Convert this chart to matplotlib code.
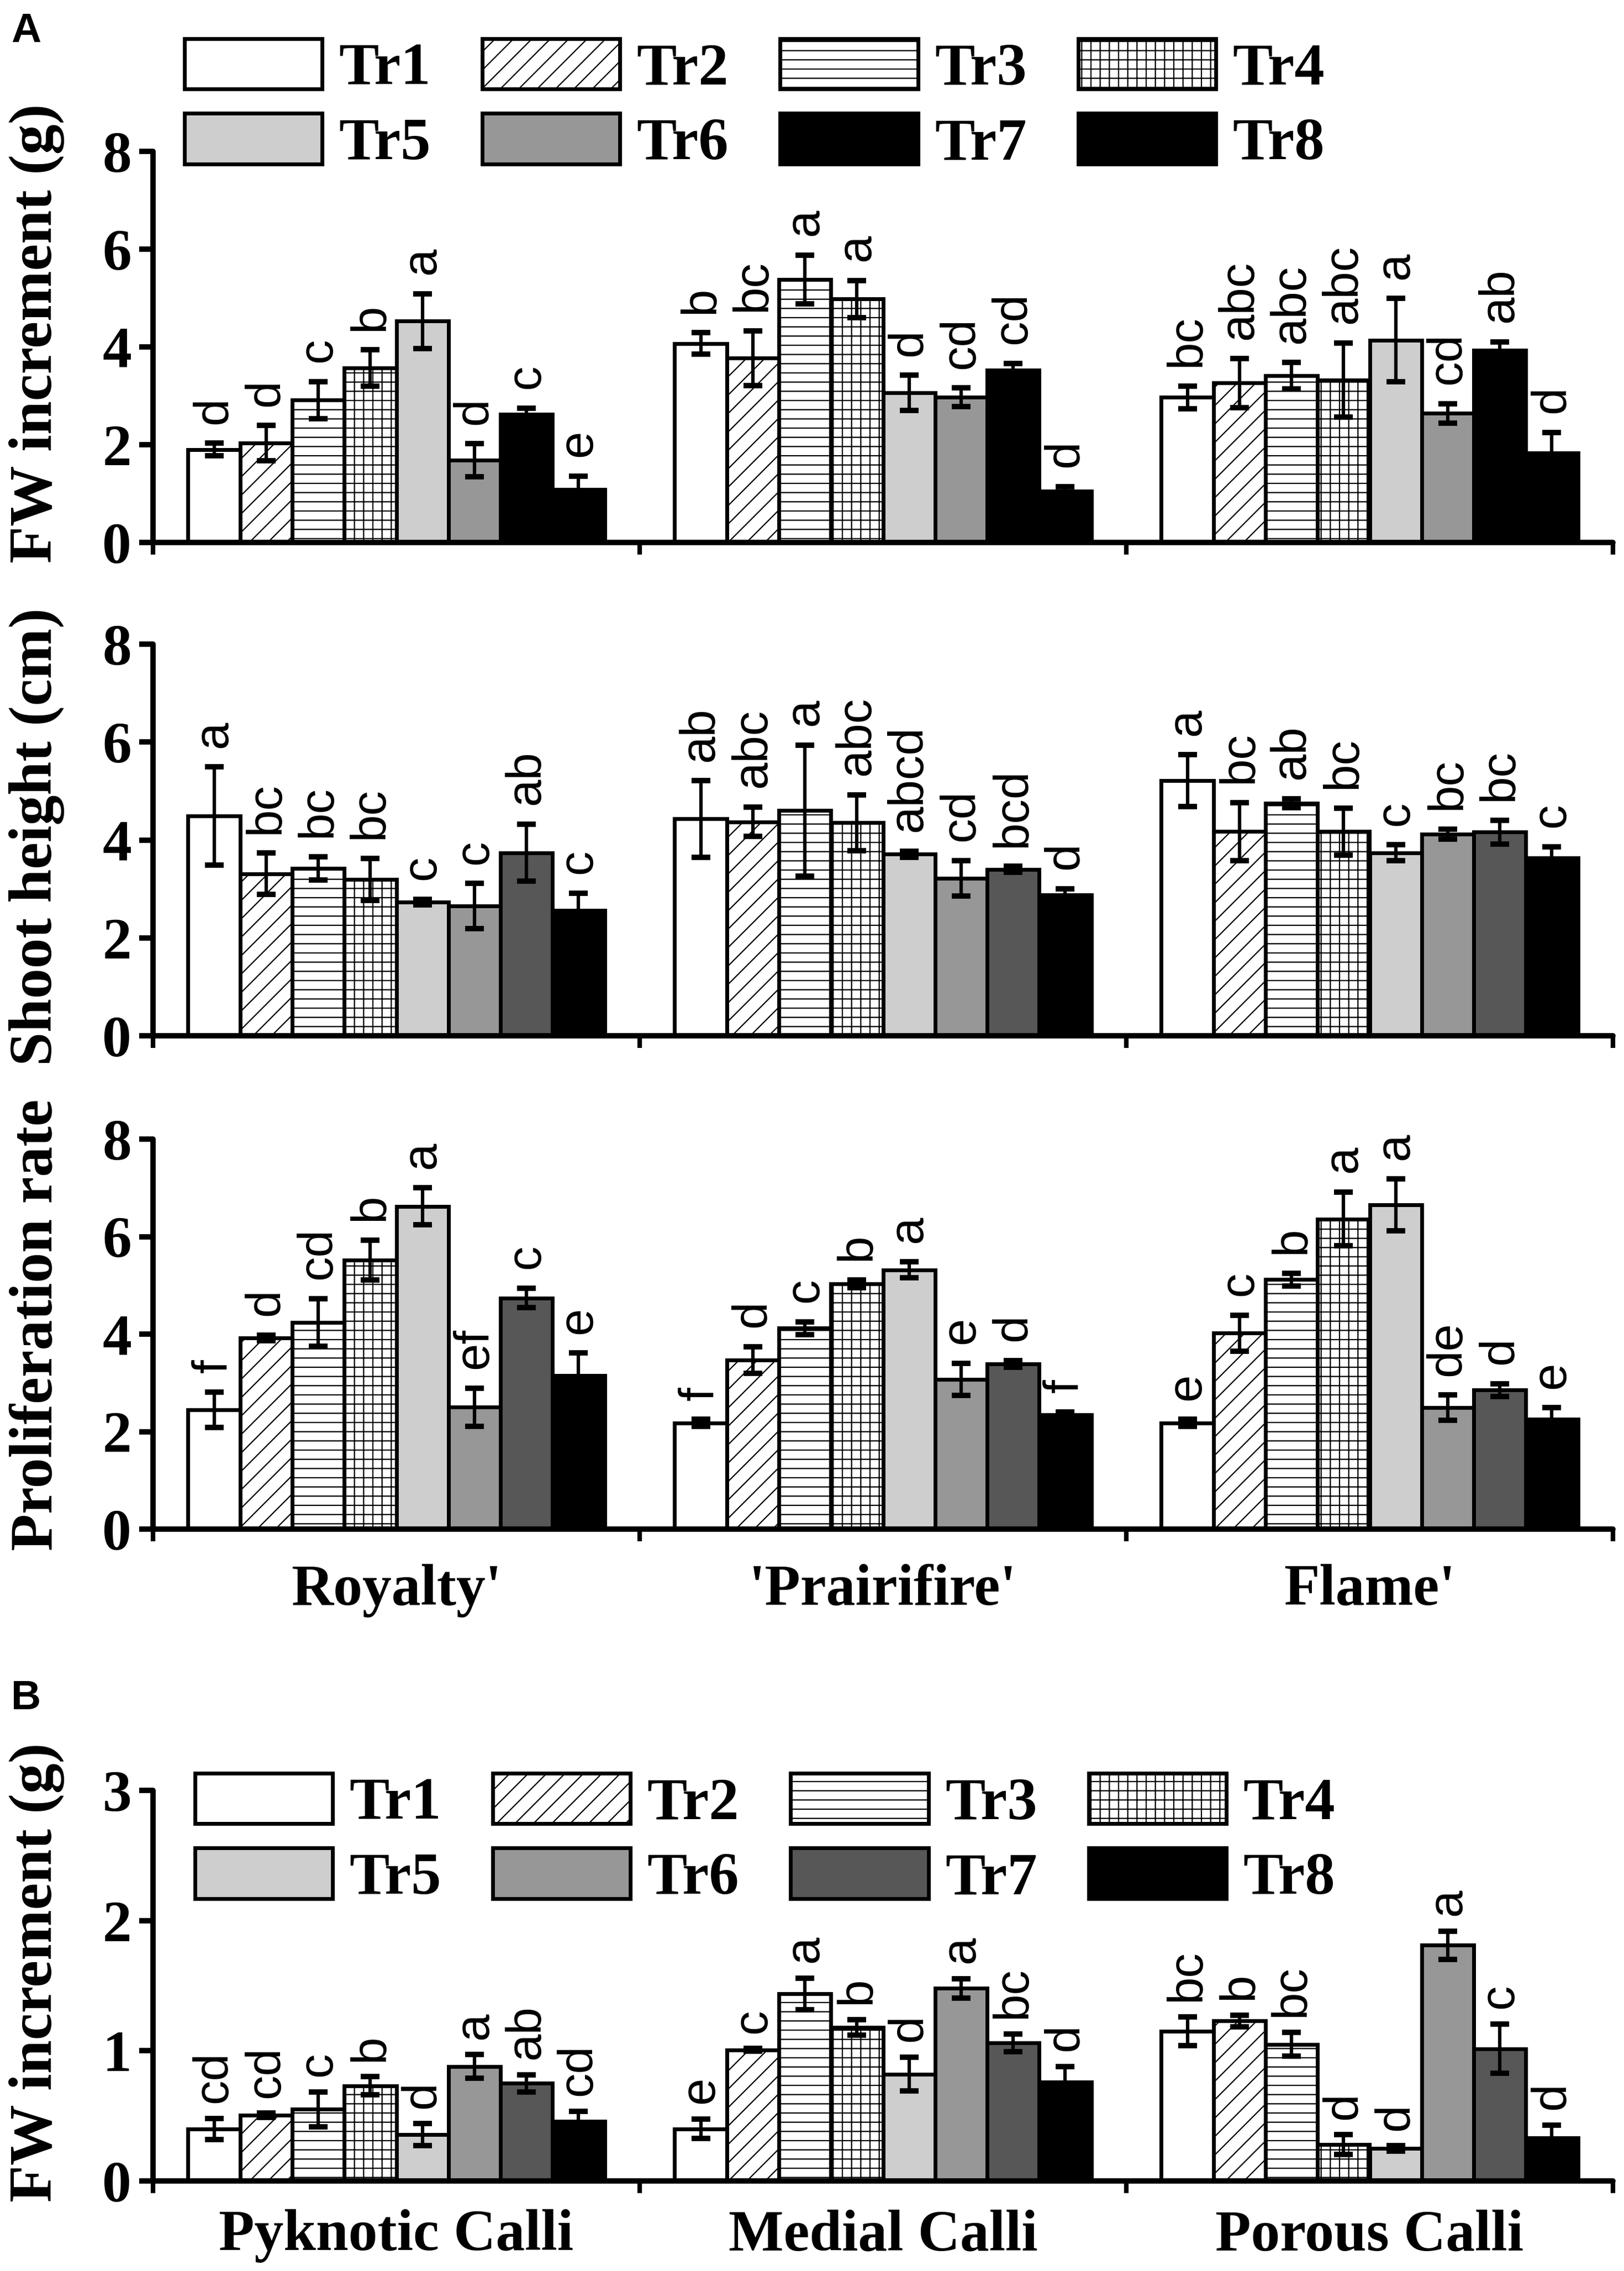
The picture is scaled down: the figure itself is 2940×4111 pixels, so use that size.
import matplotlib
matplotlib.use('Agg')
import matplotlib.pyplot as plt
from matplotlib.patches import Patch
import numpy as np

plt.rcParams['font.family'] = ['Liberation Serif', 'DejaVu Serif']
plt.rcParams['font.weight'] = 'bold'
plt.rcParams['hatch.linewidth'] = 1.6

# ---------------- data ----------------
treatments = ['Tr1', 'Tr2', 'Tr3', 'Tr4', 'Tr5', 'Tr6', 'Tr7', 'Tr8']
cultivars = ["Royalty'", "'Prairifire'", "Flame'"]
calli_types = ['Pyknotic Calli', 'Medial Calli', 'Porous Calli']

fw_mean = [[1.90, 2.03, 2.91, 3.57, 4.53, 1.68, 2.62, 1.09],
           [4.07, 3.77, 5.38, 4.98, 3.06, 2.97, 3.53, 1.05],
           [2.97, 3.26, 3.41, 3.32, 4.14, 2.64, 3.93, 1.83]]
fw_err = [[0.13, 0.36, 0.38, 0.37, 0.56, 0.34, 0.13, 0.27],
          [0.22, 0.56, 0.50, 0.38, 0.36, 0.19, 0.13, 0.09],
          [0.23, 0.50, 0.27, 0.76, 0.85, 0.20, 0.17, 0.42]]
fw_let = [['d', 'd', 'c', 'b', 'a', 'd', 'c', 'e'],
          ['b', 'bc', 'a', 'a', 'd', 'cd', 'cd', 'd'],
          ['bc', 'abc', 'abc', 'abc', 'a', 'cd', 'ab', 'd']]

sh_mean = [[4.49, 3.31, 3.42, 3.19, 2.73, 2.65, 3.74, 2.56],
           [4.43, 4.37, 4.60, 4.35, 3.71, 3.22, 3.40, 2.88],
           [5.21, 4.17, 4.75, 4.17, 3.74, 4.12, 4.16, 3.63]]
sh_err = [[1.00, 0.42, 0.24, 0.43, 0.06, 0.46, 0.58, 0.35],
          [0.78, 0.30, 1.34, 0.57, 0.06, 0.36, 0.06, 0.12],
          [0.53, 0.59, 0.09, 0.48, 0.16, 0.10, 0.24, 0.23]]
sh_let = [['a', 'bc', 'bc', 'bc', 'c', 'c', 'ab', 'c'],
          ['ab', 'abc', 'a', 'abc', 'abcd', 'cd', 'bcd', 'd'],
          ['a', 'bc', 'ab', 'bc', 'c', 'bc', 'bc', 'c']]

pr_mean = [[2.45, 3.92, 4.24, 5.52, 6.62, 2.50, 4.74, 3.15],
           [2.18, 3.47, 4.12, 5.03, 5.32, 3.07, 3.39, 2.34],
           [2.18, 4.02, 5.12, 6.36, 6.65, 2.49, 2.85, 2.26]]
pr_err = [[0.36, 0.06, 0.49, 0.41, 0.38, 0.39, 0.20, 0.46],
          [0.07, 0.27, 0.13, 0.08, 0.16, 0.33, 0.07, 0.06],
          [0.07, 0.37, 0.13, 0.55, 0.53, 0.26, 0.13, 0.23]]
pr_let = [['f', 'd', 'cd', 'b', 'a', 'ef', 'c', 'e'],
          ['f', 'd', 'c', 'b', 'a', 'e', 'd', 'f'],
          ['e', 'c', 'b', 'a', 'a', 'de', 'd', 'e']]

cal_mean = [[0.40, 0.505, 0.55, 0.73, 0.355, 0.88, 0.75, 0.46],
            [0.40, 1.007, 1.437, 1.18, 0.82, 1.48, 1.06, 0.76],
            [1.15, 1.23, 1.05, 0.28, 0.25, 1.81, 1.016, 0.33]]
cal_err = [[0.08, 0.015, 0.135, 0.07, 0.085, 0.09, 0.065, 0.075],
           [0.075, 0.01, 0.12, 0.06, 0.13, 0.075, 0.068, 0.12],
           [0.11, 0.045, 0.093, 0.075, 0.02, 0.11, 0.19, 0.10]]
cal_let = [['cd', 'cd', 'c', 'b', 'd', 'a', 'ab', 'cd'],
           ['e', 'c', 'a', 'b', 'd', 'a', 'bc', 'd'],
           ['bc', 'b', 'bc', 'd', 'd', 'a', 'c', 'd']]

# ---------------- styles ----------------
hatches = ['', '/', '-', '+', '', '', '', '']
colors_dark7 = ['white', 'white', 'white', 'white', '#cecece', '#979797', '#575757', 'black']
colors_black7 = ['white', 'white', 'white', 'white', '#cecece', '#979797', 'black', 'black']

W, H = 2940, 4111
fig = plt.figure(figsize=(W / 100, H / 100), dpi=100)


def axes_px(top, bottom, left=277, right=2920):
    return fig.add_axes([left / W, 1 - bottom / H, (right - left) / W, (bottom - top) / H])


TICK_FS = 76
LET_FS = 64
BAR_W = 0.107
EDGE_LW = 5.0


def draw_panel(ax, means, errs, lets, colors, ymax, yticks, let_pad):
    x0 = np.arange(3)
    for i in range(8):
        xs = x0 + (i - 3.5) * BAR_W
        vals = [means[g][i] for g in range(3)]
        es = [errs[g][i] for g in range(3)]
        ax.bar(xs, vals, width=BAR_W, color=colors[i], edgecolor='black',
               linewidth=EDGE_LW, hatch=hatches[i], zorder=2)
        ax.errorbar(xs, vals, yerr=es, fmt='none', ecolor='black',
                    elinewidth=4.5, capsize=12, capthick=7, zorder=3)
        for g in range(3):
            ax.annotate(lets[g][i], (xs[g], vals[g] + es[g]), xytext=(0, let_pad),
                        textcoords='offset points', rotation=90, ha='center', va='bottom',
                        fontsize=LET_FS, fontweight='normal',
                        family=['Liberation Sans', 'DejaVu Sans'], zorder=4)
    ax.set_xlim(-0.5, 2.5)
    ax.set_ylim(0, ymax)
    ax.set_yticks(yticks)
    ax.set_yticklabels([str(t) for t in yticks])
    ax.set_xticks([-0.5, 0.5, 1.5, 2.5])
    ax.set_xticklabels([])
    for s in ['top', 'right']:
        ax.spines[s].set_visible(False)
    for s in ['left', 'bottom']:
        ax.spines[s].set_linewidth(7)
        ax.spines[s].set_capstyle('round')
    ax.tick_params(axis='y', length=18, width=7, labelsize=TICK_FS, pad=10)
    ax.tick_params(axis='x', length=16, width=6)
    for lab in ax.get_yticklabels():
        lab.set_fontweight('bold')


def group_labels(ax, names, pad):
    ax.set_xticks([0, 1, 2], minor=True)
    ax.set_xticklabels(names, minor=True, fontsize=TICK_FS, fontweight='bold')
    ax.tick_params(axis='x', which='minor', length=0, pad=pad)


ax1 = axes_px(274, 982)
draw_panel(ax1, fw_mean, fw_err, fw_let, colors_black7, 8, [0, 2, 4, 6, 8], 25)
ax2 = axes_px(1166, 1875)
draw_panel(ax2, sh_mean, sh_err, sh_let, colors_dark7, 8, [0, 2, 4, 6, 8], 25)
ax3 = axes_px(2062, 2768)
draw_panel(ax3, pr_mean, pr_err, pr_let, colors_dark7, 8, [0, 2, 4, 6, 8], 25)
group_labels(ax3, cultivars, 45)
ax4 = axes_px(3241, 3948)
draw_panel(ax4, cal_mean, cal_err, cal_let, colors_dark7, 3, [0, 1, 2, 3], 20)
group_labels(ax4, calli_types, 37)

# y labels
ylab_kw = dict(rotation=90, ha='center', va='center', fontsize=79, fontweight='bold')
fig.text(67 / W, 1 - 603 / H, 'FW increment (g)', **ylab_kw)
fig.text(67 / W, 1 - 1515 / H, 'Shoot height (cm)', **ylab_kw)
fig.text(67 / W, 1 - 2398 / H, 'Proliferation rate', **ylab_kw)
fig.text(67 / W, 1 - 3570 / H, 'FW increment (g)', **ylab_kw)

# panel letters
fig.text(20 / W, 1 - 22 / H, 'A', ha='left', va='top', fontsize=54, fontweight='bold',
         family=['Liberation Sans', 'DejaVu Sans'])
fig.text(20 / W, 1 - 3040 / H, 'B', ha='left', va='top', fontsize=54, fontweight='bold',
         family=['Liberation Sans', 'DejaVu Sans'])

# legends
order = [0, 4, 1, 5, 2, 6, 3, 7]


def make_legend(ax, colors, x_px, y_px):
    handles = [Patch(facecolor=colors[i], edgecolor='black', hatch=hatches[i],
                     linewidth=EDGE_LW) for i in order]
    labels = [treatments[i] for i in order]
    leg = ax.legend(handles, labels, ncol=4, loc='upper left',
                    bbox_to_anchor=(x_px / W, 1 - y_px / H), bbox_transform=fig.transFigure,
                    frameon=False, fontsize=78, handlelength=2.3, handleheight=0.92,
                    handletextpad=0.28, columnspacing=0.86, labelspacing=0.27,
                    borderpad=0, borderaxespad=0)
    for t in leg.get_texts():
        t.set_fontweight('bold')
    return leg


make_legend(ax1, colors_black7, 334, 70)
make_legend(ax4, colors_dark7, 353, 3210)

fig.savefig('out.png', dpi=100)
